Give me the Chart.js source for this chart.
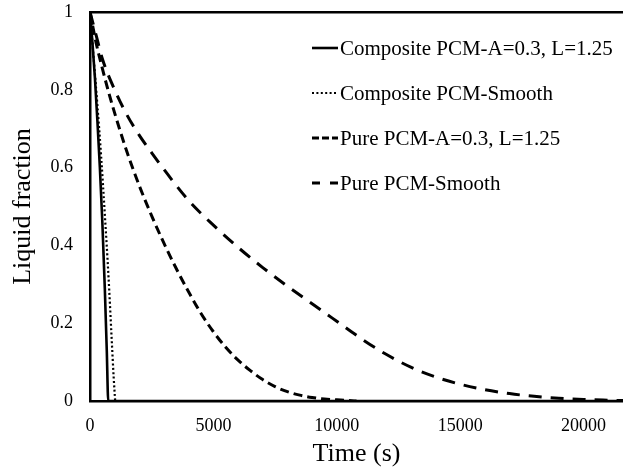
<!DOCTYPE html>
<html>
<head>
<meta charset="utf-8">
<script src="https://cdn.jsdelivr.net/npm/chart.js@4/dist/chart.umd.min.js"></script>
<style>
  html, body { margin: 0; padding: 0; background: #fff; overflow: hidden; }
  #wrap { position: relative; width: 623px; height: 468px; }
</style>
</head>
<body>
<div id="wrap"><canvas id="c" width="623" height="468"></canvas></div>
<script>
// ---- data ----
const seriesLabels = [
  'Composite PCM-A=0.3, L=1.25',
  'Composite PCM-Smooth',
  'Pure PCM-A=0.3, L=1.25',
  'Pure PCM-Smooth'
];

const compATime  = [0, 100, 200, 300, 400, 500, 600, 680, 740, 1500, 5000, 10000, 15000, 21600];
const compAFrac  = [1, 0.92, 0.83, 0.72, 0.6, 0.46, 0.29, 0.13, 0, 0, 0, 0, 0, 0];

const compSTime  = [0, 150, 300, 450, 600, 750, 870, 960, 1020];
const compSFrac  = [1, 0.88, 0.76, 0.63, 0.48, 0.32, 0.17, 0.06, 0];

const pureATime  = [0, 250, 500, 750, 1000, 1500, 2000, 2500, 3000, 3500, 4000, 4500, 5000, 5500, 6000, 6500, 7000, 7500, 8000, 8500, 9000, 9500, 10000, 10500, 10800];
const pureAFrac  = [1, 0.92, 0.855, 0.795, 0.74, 0.64, 0.553, 0.476, 0.405, 0.34, 0.28, 0.225, 0.178, 0.138, 0.105, 0.078, 0.055, 0.037, 0.024, 0.015, 0.009, 0.005, 0.003, 0.001, 0];

const pureSTime  = [0, 250, 500, 1000, 1500, 2000, 2500, 3000, 4000, 5000, 6000, 7000, 8000, 9000, 10000, 11000, 12000, 13000, 14000, 15000, 16000, 17000, 18000, 19000, 20000, 21000, 21600];
const pureSFrac  = [1, 0.94, 0.88, 0.8, 0.735, 0.683, 0.638, 0.595, 0.515, 0.452, 0.395, 0.343, 0.295, 0.25, 0.205, 0.16, 0.12, 0.087, 0.062, 0.043, 0.029, 0.019, 0.012, 0.007, 0.004, 0.002, 0.001];

const xTickValues = [0, 5000, 10000, 15000, 20000];
const yTickValues = [0, 0.2, 0.4, 0.6, 0.8, 1];

// ---- chart ----
const pts = (xs, ys) => xs.map((x, i) => ({ x: x, y: ys[i] }));
const FONT = 'Liberation Serif, Times New Roman, serif';

const datasets = [
  { label: seriesLabels[0], data: pts(compATime, compAFrac), borderColor: '#000', borderWidth: 2.6, borderDash: [] },
  { label: seriesLabels[1], data: pts(compSTime, compSFrac), borderColor: '#000', borderWidth: 2.2, borderDash: [2, 2.4] },
  { label: seriesLabels[2], data: pts(pureATime, pureAFrac), borderColor: '#000', borderWidth: 3, borderDash: [9, 5] },
  { label: seriesLabels[3], data: pts(pureSTime, pureSFrac), borderColor: '#000', borderWidth: 3, borderDash: [13, 9] }
].map(d => Object.assign(d, { pointRadius: 0, fill: false, cubicInterpolationMode: 'monotone', borderCapStyle: 'butt' }));

const legendPlugin = {
  id: 'insideLegend',
  afterDraw(chart) {
    const ctx = chart.ctx;
    ctx.save();
    ctx.font = '21px ' + FONT;
    ctx.fillStyle = '#000';
    ctx.textBaseline = 'middle';
    ctx.textAlign = 'left';
    chart.data.datasets.forEach((ds, i) => {
      const y = 48 + i * 45;
      ctx.beginPath();
      ctx.strokeStyle = ds.borderColor;
      ctx.lineWidth = ds.borderWidth;
      ctx.setLineDash(i === 2 ? [7, 3] : (i === 3 ? [8, 10] : ds.borderDash));
      ctx.moveTo(312, y);
      ctx.lineTo(338, y);
      ctx.stroke();
      ctx.setLineDash([]);
      ctx.fillText(ds.label, 340, y + 1);
    });
    ctx.restore();
  }
};

new Chart(document.getElementById('c'), {
  type: 'line',
  data: { datasets: datasets },
  plugins: [legendPlugin],
  options: {
    responsive: false,
    animation: false,
    devicePixelRatio: 1,
    layout: { padding: { top: 12, left: 0, right: 0, bottom: 0 } },
    plugins: { legend: { display: false }, tooltip: { enabled: false } },
    scales: {
      x: {
        type: 'linear', position: 'bottom', min: 0, max: 21600,
        afterFit: s => { s.height = 67; s.paddingLeft = 0; s.paddingRight = 0; },
        afterBuildTicks: s => { s.ticks = xTickValues.map(v => ({ value: v })); },
        grid: { display: false, drawTicks: false },
        border: { display: true, color: '#000', width: 2.5 },
        ticks: { color: '#000', font: { family: FONT, size: 18 }, padding: 14, maxRotation: 0, callback: v => String(v) },
        title: { display: true, text: 'Time (s)', color: '#000', font: { family: FONT, size: 26 }, padding: { top: 0, bottom: -2 } }
      },
      xTop: {
        type: 'linear', position: 'top', min: 0, max: 21600,
        afterFit: s => { s.height = 0; s.paddingLeft = 0; s.paddingRight = 0; },
        grid: { display: false, drawTicks: false },
        border: { display: true, color: '#000', width: 2.5 },
        ticks: { display: false }
      },
      y: {
        type: 'linear', min: 0, max: 1,
        afterFit: s => { s.width = 90; s.paddingTop = 0; s.paddingBottom = 0; },
        afterBuildTicks: s => { s.ticks = yTickValues.map(v => ({ value: v })); },
        grid: { display: false, drawTicks: false },
        border: { display: true, color: '#000', width: 2.5 },
        ticks: { color: '#000', font: { family: FONT, size: 18 }, padding: 17, callback: v => String(v) },
        title: { display: true, text: 'Liquid fraction', color: '#000', font: { family: FONT, size: 26 }, padding: { top: 8, bottom: 0 } }
      }
    }
  }
});
</script>
</body>
</html>
